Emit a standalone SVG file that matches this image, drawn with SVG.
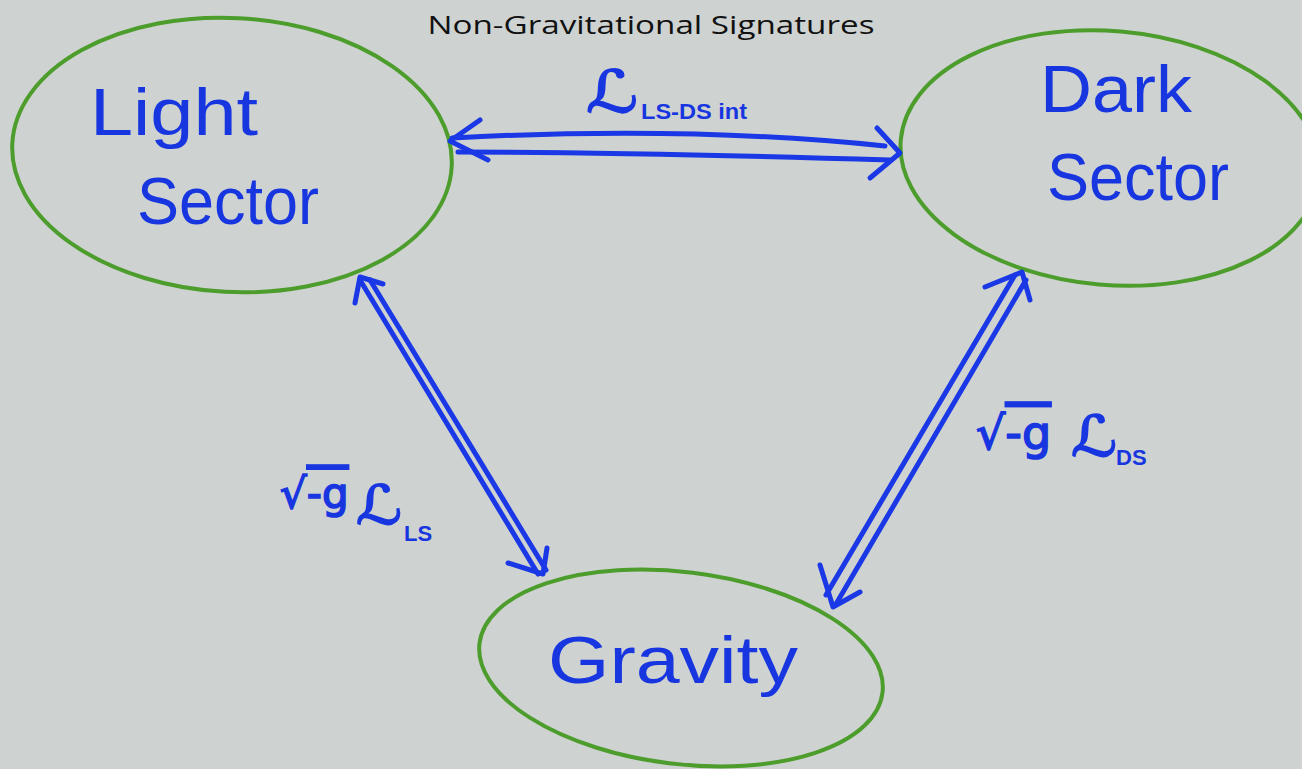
<svg xmlns="http://www.w3.org/2000/svg" width="1302" height="769" viewBox="0 0 1302 769">
<style>
.node ellipse{fill:none;stroke:#4c9d2c;stroke-width:4}
.hand{font-family:"Liberation Sans","DejaVu Sans",sans-serif;fill:#1836e0}
.big{font-size:66px}
.arr{fill:none;stroke:#1a38e6;stroke-width:5;stroke-linecap:round;stroke-linejoin:round}
.lbl{font-family:"DejaVu Sans","Liberation Sans",sans-serif;fill:#1836e0;stroke:#1836e0;stroke-width:1.6}
.sub{font-family:"Liberation Sans",sans-serif;fill:#1836e0;font-size:22px;font-weight:bold}
</style>
<rect width="1302" height="769" fill="#ced2d1"/>
<text x="651" y="34" text-anchor="middle" font-family="Open Sans, Liberation Sans, sans-serif" font-size="26" fill="#111" textLength="447" lengthAdjust="spacingAndGlyphs">Non-Gravitational Signatures</text>

<g id="light-sector" class="node">
<ellipse cx="232" cy="155" rx="220" ry="137" transform="rotate(3 232 155)"/>
<text class="hand big" x="90" y="135" textLength="168" lengthAdjust="spacingAndGlyphs">Light</text>
<text class="hand big" x="137" y="224" textLength="182" lengthAdjust="spacingAndGlyphs">Sector</text>
</g>

<g id="dark-sector" class="node">
<ellipse cx="1110" cy="158" rx="210" ry="127" transform="rotate(5 1110 158)"/>
<text class="hand big" x="1040" y="112" textLength="152" lengthAdjust="spacingAndGlyphs">Dark</text>
<text class="hand big" x="1047" y="200" textLength="182" lengthAdjust="spacingAndGlyphs">Sector</text>
</g>

<g id="gravity" class="node">
<ellipse cx="681" cy="668" rx="203" ry="96" transform="rotate(7 681 668)"/>
<text class="hand big" x="548" y="683" textLength="250" lengthAdjust="spacingAndGlyphs">Gravity</text>
</g>

<g id="connectors">
<path class="arr" d="M452 138 C600 130 750 132 885 146"/>
<path class="arr" d="M458 152 C600 152 760 156 890 160"/>
<path class="arr" d="M480 120 L450 141 L488 160"/>
<path class="arr" d="M877 128 L900 153 L870 178"/>
<path class="arr" d="M360 280 L538 574"/>
<path class="arr" d="M370 280 L546 570"/>
<path class="arr" d="M355 303 L360 277 L383 284"/>
<path class="arr" d="M508 563 L543 574 L547 548"/>
<path class="arr" d="M1015 275 L826 595"/>
<path class="arr" d="M1026 280 L836 604"/>
<path class="arr" d="M985 287 L1022 272 L1030 300"/>
<path class="arr" d="M820 565 L833 607 L860 592"/>
</g>

<g id="labels">
<text class="lbl" x="586" y="112" font-size="58" font-style="italic" textLength="52" lengthAdjust="spacingAndGlyphs">ℒ</text>
<text class="sub" x="641" y="119" textLength="106" lengthAdjust="spacingAndGlyphs">LS-DS int</text>

<text class="lbl" x="280" y="508" font-size="42" stroke-width="1">√<tspan text-decoration="overline">-g</tspan></text>
<text class="lbl" x="356" y="524" font-size="54" font-style="italic" textLength="46" lengthAdjust="spacingAndGlyphs">ℒ</text>
<text class="sub" x="404" y="541" font-size="24">LS</text>

<text class="lbl" x="976" y="449" font-size="46" stroke-width="1">√<tspan text-decoration="overline">-g</tspan></text>
<text class="lbl" x="1071" y="456" font-size="56" font-style="italic" textLength="46" lengthAdjust="spacingAndGlyphs">ℒ</text>
<text class="sub" x="1116" y="465">DS</text>
</g>
</svg>
